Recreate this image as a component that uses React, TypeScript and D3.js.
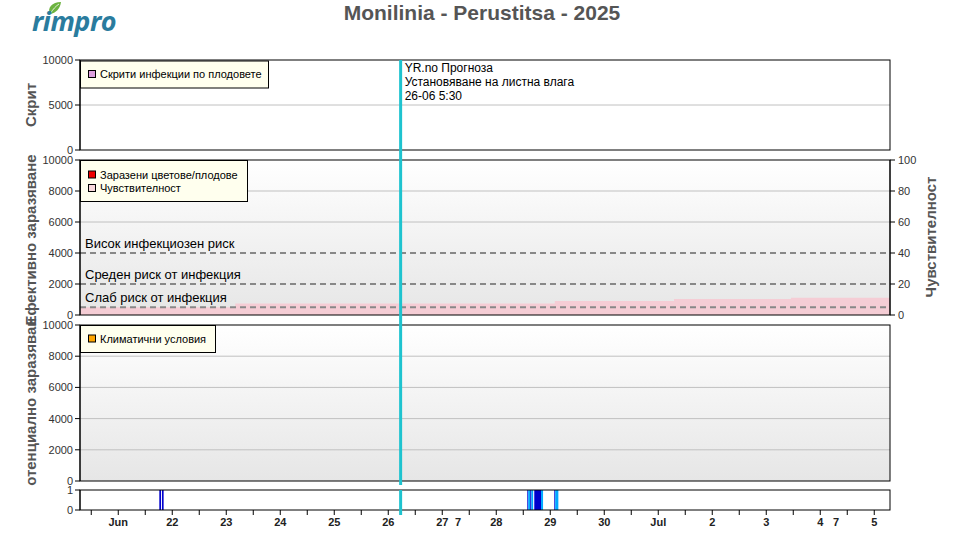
import React from "react";
import * as d3 from "d3";

const W = 960;
const H = 535;
const FONT = "'Liberation Sans', Arial, sans-serif";

const t = (mo: number, d: number, h = 0, mi = 0) => new Date(Date.UTC(2025, mo - 1, d, h, mi));

// time domain
const startTime = t(6, 20, 7, 0);
const endTime = t(7, 5, 7, 0);

// x tick labels (day labels)
const dayLabels: [Date, string][] = [
  [t(6, 21), "Jun"], [t(6, 22), "22"], [t(6, 23), "23"], [t(6, 24), "24"], [t(6, 25), "25"],
  [t(6, 26), "26"], [t(6, 27), "27"], [t(6, 27, 7), "7"], [t(6, 28), "28"], [t(6, 29), "29"],
  [t(6, 30), "30"], [t(7, 1), "Jul"], [t(7, 2), "2"], [t(7, 3), "3"], [t(7, 4), "4"],
  [t(7, 4, 7), "7"], [t(7, 5), "5"],
];

// sensitivity (right axis, %), step-after
const sensTimes = [t(6, 20, 7), t(6, 23, 4), t(6, 29, 2), t(7, 1, 7), t(7, 3, 11), t(7, 5, 7)];
const sensValues = [5, 7.5, 9, 10.3, 11.2, 11.2];

// risk thresholds
const thresholdValues = [4000, 2000, 500];
const thresholdLabels = ["Висок инфекциозен риск", "Среден риск от инфекция", "Слаб риск от инфекция"];

// leaf wetness strip: interval start, end, level (1 = dark, 2 = light)
const wetStarts = [t(6, 21, 18, 15), t(6, 21, 19, 25), t(6, 28, 13, 48), t(6, 28, 14, 12), t(6, 28, 15, 6), t(6, 28, 15, 36), t(6, 28, 16, 54), t(6, 28, 19, 54), t(6, 29, 1, 48), t(6, 29, 2, 12)];
const wetEnds = [t(6, 21, 19, 0), t(6, 21, 20, 10), t(6, 28, 14, 12), t(6, 28, 15, 6), t(6, 28, 15, 36), t(6, 28, 16, 24), t(6, 28, 19, 54), t(6, 28, 20, 48), t(6, 29, 2, 12), t(6, 29, 3, 36)];
const wetLevels = [1, 1, 1, 2, 1, 2, 1, 2, 1, 2];

const forecastTime = t(6, 26, 5, 30);
const forecastLines = ["YR.no Прогноза", "Установяване на листна влага", "26-06 5:30"];

const title = "Monilinia - Perustitsa - 2025";

const L = 80, R = 890;

export default function App() {
  const x = d3.scaleUtc().domain([startTime, endTime]).range([L, R]);
  const p1 = d3.scaleLinear().domain([0, 10000]).range([150, 60]);
  const p2 = d3.scaleLinear().domain([0, 10000]).range([315, 160]);
  const p2r = d3.scaleLinear().domain([0, 100]).range([315, 160]);
  const p3 = d3.scaleLinear().domain([0, 10000]).range([481, 325]);
  const ps = d3.scaleLinear().domain([0, 1]).range([510, 490]);

  const halfDayTicks = d3.utcHour.every(12)!.range(startTime, endTime);
  const sensArea = d3.area<number>()
    .x((i) => x(sensTimes[i]))
    .y0(p2r(0))
    .y1((i) => p2r(sensValues[i]))
    .curve(d3.curveStepAfter);

  const leftAxis = (scale: d3.ScaleLinear<number, number>, ticks: number[]) => (
    <g>
      <line x1={L} x2={L} y1={scale.range()[0]} y2={scale.range()[1]} stroke="#000" />
      {ticks.map((v) => (
        <g key={v}>
          <line x1={L - 5} x2={L} y1={scale(v)} y2={scale(v)} stroke="#000" />
          <text x={L - 7} y={scale(v) + 4} textAnchor="end" fontSize={11} fill="#333">{v}</text>
        </g>
      ))}
    </g>
  );

  const grid = (scale: d3.ScaleLinear<number, number>, ticks: number[]) =>
    ticks.map((v) => <line key={v} x1={L} x2={R} y1={scale(v)} y2={scale(v)} stroke="#c0c0c0" />);

  const xf = x(forecastTime);
  const darkBlue = "#0000cc";
  const lightBlue = "#00aaff";

  return (
    <svg width={W} height={H} style={{ position: "absolute", left: 0, top: 0, fontFamily: FONT }}>
      <defs>
        <linearGradient id="bg" x1="0" y1="0" x2="0" y2="1">
          <stop offset="0" stopColor="#ffffff" />
          <stop offset="1" stopColor="#e6e6e6" />
        </linearGradient>
        <clipPath id="clip3"><rect x={0} y={319} width={70} height={168} /></clipPath>
      </defs>
      <rect width={W} height={H} fill="#fff" />

      {/* logo */}
      <path d="M50,14 C47,8 52,2 61,2 C60,9 56,13 50,14 Z" fill="#6cb33f" />
      <path d="M50,14 C53,9 56,6 59,4" stroke="#fff" strokeWidth={0.8} fill="none" />
      <text x={32} y={31} fontSize={27} fontWeight="bold" fontStyle="italic" fill="#2a7c9e" fontFamily="'Open Sans', sans-serif" letterSpacing={-0.5}>rimpro</text>

      <text x={482} y={20} textAnchor="middle" fontSize={21} fontWeight="bold" fill="#555">{title}</text>

      {/* Panel 1 */}
      <rect x={L} y={60} width={R - L} height={90} fill="#fff" />
      {grid(p1, [5000])}
      <rect x={L} y={60} width={R - L} height={90} fill="none" stroke="#000" />
      {leftAxis(p1, [0, 5000, 10000])}
      <text transform={`translate(36,105) rotate(-90)`} textAnchor="middle" fontSize={15} fontWeight="bold" fill="#555">Скрит</text>
      <rect x={L + 0.5} y={61} width={188} height={27} fill="#ffffee" stroke="#000" />
      <rect x={88.5} y={70.5} width={7} height={7} fill="#dda0dd" stroke="#000" />
      <text x={100} y={78} fontSize={11} fill="#000">Скрити инфекции по плодовете</text>
      {forecastLines.map((s, i) => (
        <text key={i} x={xf + 4} y={72 + i * 14} fontSize={12} fill="#000">{s}</text>
      ))}

      {/* Panel 2 */}
      <rect x={L} y={160} width={R - L} height={155} fill="url(#bg)" />
      <path d={sensArea(d3.range(sensTimes.length)) || ""} fill="#f5cdd5" />
      {grid(p2, [6000, 8000])}
      {thresholdValues.map((v, i) => (
        <g key={v}>
          <line x1={L} x2={R} y1={p2(v)} y2={p2(v)} stroke="#888" strokeWidth={2} strokeDasharray="6,4" />
          <text x={85} y={p2(v) - 5} fontSize={13} fill="#000">{thresholdLabels[i]}</text>
        </g>
      ))}
      <rect x={L} y={160} width={R - L} height={155} fill="none" stroke="#000" />
      {leftAxis(p2, [0, 2000, 4000, 6000, 8000, 10000])}
      <line x1={R} x2={R} y1={160} y2={315} stroke="#000" />
      {[0, 20, 40, 60, 80, 100].map((v) => (
        <g key={v}>
          <line x1={R} x2={R + 5} y1={p2r(v)} y2={p2r(v)} stroke="#000" />
          <text x={R + 8} y={p2r(v) + 4} fontSize={11} fill="#333">{v}</text>
        </g>
      ))}
      <text transform={`translate(36,240) rotate(-90)`} textAnchor="middle" fontSize={15} fontWeight="bold" fill="#555">Ефективно заразяване</text>
      <text transform={`translate(936,237) rotate(-90)`} textAnchor="middle" fontSize={15} fontWeight="bold" fill="#555">Чувствителност</text>
      <rect x={L + 0.5} y={160.5} width={167} height={41} fill="#ffffee" stroke="#000" />
      <rect x={88.5} y={171} width={7} height={7} fill="#ee0000" stroke="#000" />
      <text x={100} y={178.5} fontSize={11} fill="#000">Заразени цветове/плодове</text>
      <rect x={88.5} y={184.5} width={7} height={7} fill="#f8d8dc" stroke="#000" />
      <text x={100} y={192} fontSize={11} fill="#000">Чувствителност</text>

      {/* Panel 3 */}
      <rect x={L} y={325} width={R - L} height={156} fill="url(#bg)" />
      {grid(p3, [2000, 4000, 6000, 8000])}
      <rect x={L} y={325} width={R - L} height={156} fill="none" stroke="#000" />
      {leftAxis(p3, [0, 2000, 4000, 6000, 8000, 10000])}
      <g clipPath="url(#clip3)">
        <text transform={`translate(36,403) rotate(-90)`} textAnchor="middle" fontSize={15} fontWeight="bold" fill="#555">Потенциално заразяване</text>
      </g>
      <rect x={L + 0.5} y={325.5} width={135} height={27} fill="#ffffee" stroke="#000" />
      <rect x={88.5} y={335} width={7} height={7} fill="#ffa500" stroke="#000" />
      <text x={100} y={343} fontSize={11} fill="#000">Климатични условия</text>

      {/* Strip */}
      <rect x={L} y={490} width={R - L} height={20} fill="#fff" />
      {wetStarts.map((s, i) => (
        <rect key={i} x={x(s)} y={ps(1)} width={x(wetEnds[i]) - x(s)} height={ps(0) - ps(1)} fill={wetLevels[i] === 1 ? darkBlue : lightBlue} />
      ))}
      <rect x={L} y={490} width={R - L} height={20} fill="none" stroke="#000" />
      {leftAxis(ps, [0, 1])}

      {/* X axis */}
      {halfDayTicks.map((d, i) => (
        <line key={i} x1={x(d)} x2={x(d)} y1={510} y2={515} stroke="#000" />
      ))}
      {dayLabels.map(([d, s], i) => (
        <text key={i} x={x(d)} y={526} textAnchor="middle" fontSize={11} fontWeight="bold" fill="#222">{s}</text>
      ))}

      {/* forecast line */}
      <line x1={xf} x2={xf} y1={60} y2={320} stroke="#1ec3cf" strokeWidth={3} />
      <line x1={xf} x2={xf} y1={320} y2={485} stroke="#1ec3cf" strokeWidth={3} />
      <line x1={xf} x2={xf} y1={490} y2={515} stroke="#1ec3cf" strokeWidth={3} />
    </svg>
  );
}
